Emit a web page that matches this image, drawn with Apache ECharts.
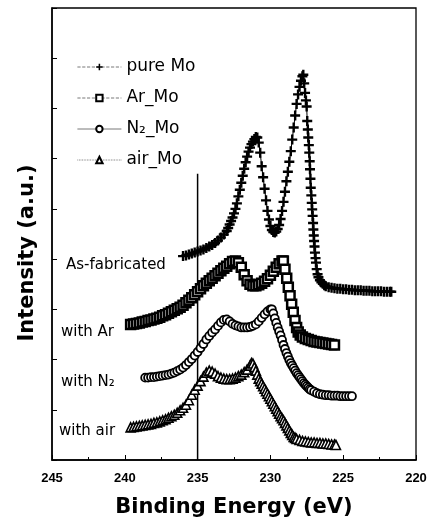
<!DOCTYPE html>
<html>
<head>
<meta charset="utf-8">
<title>Mo 3d XPS</title>
<script src="https://cdn.jsdelivr.net/npm/echarts@6/dist/echarts.min.js"></script>
<style>
  html, body { margin: 0; padding: 0; background: #fff; }
  #chart { width: 433px; height: 523px; }
</style>
</head>
<body>
<div id="chart"></div>
<script>
// 数据：[结合能 eV, 强度 a.u.]
const pureMo = [
  [236.0, 4.06], [235.8, 4.07], [235.6, 4.09], [235.4, 4.11], [235.2, 4.13], [235.0, 4.15],
  [234.8, 4.17], [234.6, 4.19], [234.4, 4.22], [234.2, 4.25], [234.0, 4.28], [233.8, 4.32],
  [233.6, 4.37], [233.4, 4.43], [233.2, 4.49], [233.0, 4.56], [232.9, 4.62], [232.8, 4.69],
  [232.7, 4.76], [232.6, 4.83], [232.5, 4.91], [232.4, 5.0], [232.3, 5.11], [232.2, 5.25],
  [232.1, 5.38], [232.0, 5.52], [231.9, 5.66], [231.8, 5.8], [231.7, 5.93], [231.6, 6.04],
  [231.5, 6.14], [231.4, 6.22], [231.3, 6.29], [231.2, 6.34], [231.1, 6.39], [231.0, 6.43],
  [230.9, 6.42], [230.8, 6.32], [230.7, 6.12], [230.6, 5.85], [230.5, 5.63], [230.4, 5.4],
  [230.3, 5.17], [230.2, 4.96], [230.1, 4.79], [230.0, 4.66], [229.9, 4.58], [229.8, 4.54],
  [229.7, 4.53], [229.6, 4.55], [229.5, 4.6], [229.4, 4.68], [229.3, 4.8], [229.2, 4.96],
  [229.1, 5.14], [229.0, 5.34], [228.9, 5.55], [228.8, 5.74], [228.7, 5.94], [228.6, 6.15],
  [228.5, 6.38], [228.4, 6.62], [228.3, 6.86], [228.2, 7.09], [228.1, 7.28], [228.0, 7.43],
  [227.9, 7.55], [227.8, 7.64], [227.74, 7.67], [227.68, 7.5], [227.62, 7.31], [227.56, 7.16],
  [227.51, 7.04], [227.47, 6.75], [227.43, 6.58], [227.4, 6.42], [227.36, 6.27], [227.33, 6.12],
  [227.3, 5.95], [227.28, 5.79], [227.25, 5.6], [227.23, 5.42], [227.19, 5.27], [227.16, 5.12],
  [227.13, 4.99], [227.1, 4.86], [227.07, 4.72], [227.05, 4.59], [227.02, 4.47], [227.0, 4.36],
  [226.97, 4.25], [226.94, 4.13], [226.9, 4.02], [226.87, 3.93], [226.82, 3.8], [226.76, 3.7],
  [226.7, 3.64], [226.6, 3.58], [226.5, 3.54], [226.4, 3.51], [226.3, 3.48], [226.2, 3.46],
  [226.0, 3.44], [225.8, 3.43], [225.6, 3.42], [225.4, 3.41], [225.2, 3.41], [225.0, 3.4],
  [224.8, 3.4], [224.6, 3.39], [224.4, 3.39], [224.2, 3.38], [224.0, 3.38], [223.8, 3.38],
  [223.6, 3.37], [223.4, 3.37], [223.2, 3.37], [223.0, 3.36], [222.8, 3.36], [222.6, 3.36],
  [222.4, 3.36], [222.2, 3.35], [222.0, 3.35], [221.8, 3.35], [221.7, 3.35]
];

const arMo = [
  [239.6, 2.7], [239.4, 2.71], [239.2, 2.72], [239.0, 2.73], [238.8, 2.75], [238.6, 2.76],
  [238.4, 2.78], [238.2, 2.79], [238.0, 2.81], [237.8, 2.82], [237.6, 2.84], [237.4, 2.87],
  [237.2, 2.89], [237.0, 2.92], [236.8, 2.95], [236.6, 2.98], [236.4, 3.01], [236.2, 3.04],
  [236.0, 3.08], [235.8, 3.13], [235.6, 3.18], [235.4, 3.23], [235.2, 3.29], [235.0, 3.35],
  [234.8, 3.41], [234.6, 3.47], [234.4, 3.52], [234.2, 3.57], [234.0, 3.62], [233.8, 3.67],
  [233.6, 3.72], [233.4, 3.77], [233.2, 3.82], [233.0, 3.86], [232.8, 3.91], [232.6, 3.95],
  [232.4, 3.96], [232.2, 3.93], [232.0, 3.84], [231.8, 3.69], [231.6, 3.57], [231.4, 3.5],
  [231.2, 3.47], [231.0, 3.47], [230.8, 3.49], [230.6, 3.52], [230.4, 3.56], [230.2, 3.61],
  [230.0, 3.68], [229.8, 3.76], [229.6, 3.84], [229.4, 3.91], [229.2, 3.96], [229.11, 3.96],
  [229.0, 3.8], [228.88, 3.62], [228.77, 3.44], [228.65, 3.27], [228.54, 3.1], [228.43, 2.94],
  [228.31, 2.78], [228.2, 2.64], [228.09, 2.55], [227.95, 2.49], [227.8, 2.45], [227.6, 2.42],
  [227.4, 2.4], [227.2, 2.38], [227.0, 2.36], [226.8, 2.35], [226.6, 2.34], [226.4, 2.33],
  [226.2, 2.32], [226.0, 2.31], [225.8, 2.3], [225.6, 2.29]
];

const n2Mo = [
  [238.6, 1.64], [238.4, 1.64], [238.2, 1.65], [238.0, 1.65], [237.8, 1.66], [237.6, 1.67],
  [237.4, 1.68], [237.2, 1.69], [237.0, 1.7], [236.8, 1.72], [236.6, 1.74], [236.4, 1.77],
  [236.2, 1.8], [236.0, 1.84], [235.8, 1.89], [235.6, 1.95], [235.4, 2.01], [235.2, 2.08],
  [235.0, 2.15], [234.8, 2.23], [234.6, 2.31], [234.4, 2.4], [234.2, 2.47], [234.0, 2.54],
  [233.8, 2.6], [233.6, 2.67], [233.4, 2.74], [233.2, 2.79], [233.0, 2.8], [232.8, 2.76],
  [232.6, 2.71], [232.4, 2.68], [232.2, 2.66], [232.0, 2.64], [231.8, 2.64], [231.6, 2.64],
  [231.4, 2.65], [231.2, 2.67], [231.0, 2.7], [230.8, 2.76], [230.6, 2.83], [230.4, 2.9],
  [230.2, 2.96], [230.0, 3.0], [229.9, 3.0], [229.8, 2.92], [229.7, 2.82], [229.6, 2.73],
  [229.5, 2.64], [229.4, 2.56], [229.3, 2.48], [229.2, 2.39], [229.1, 2.29], [229.0, 2.21],
  [228.9, 2.13], [228.8, 2.06], [228.7, 1.99], [228.6, 1.93], [228.5, 1.88], [228.4, 1.83],
  [228.3, 1.78], [228.2, 1.73], [228.1, 1.69], [228.0, 1.65], [227.9, 1.61], [227.8, 1.57],
  [227.7, 1.53], [227.6, 1.5], [227.5, 1.47], [227.4, 1.44], [227.3, 1.41], [227.2, 1.39],
  [227.0, 1.36], [226.8, 1.33], [226.6, 1.31], [226.4, 1.3], [226.2, 1.29], [226.0, 1.29],
  [225.8, 1.28], [225.6, 1.28], [225.4, 1.28], [225.2, 1.27], [225.0, 1.27], [224.8, 1.27],
  [224.6, 1.27], [224.4, 1.27]
];

const airMo = [
  [239.6, 0.65], [239.4, 0.66], [239.2, 0.67], [239.0, 0.68], [238.8, 0.69], [238.6, 0.7],
  [238.4, 0.71], [238.2, 0.72], [238.0, 0.74], [237.8, 0.75], [237.6, 0.77], [237.4, 0.79],
  [237.2, 0.81], [237.0, 0.84], [236.8, 0.87], [236.6, 0.9], [236.4, 0.94], [236.2, 0.99],
  [236.0, 1.04], [235.8, 1.1], [235.6, 1.19], [235.4, 1.3], [235.2, 1.4], [235.0, 1.48],
  [234.8, 1.57], [234.6, 1.66], [234.4, 1.74], [234.2, 1.78], [234.0, 1.76], [233.8, 1.72],
  [233.6, 1.67], [233.4, 1.64], [233.2, 1.62], [233.0, 1.61], [232.8, 1.61], [232.6, 1.62],
  [232.4, 1.64], [232.2, 1.67], [232.0, 1.7], [231.8, 1.75], [231.6, 1.8], [231.4, 1.88],
  [231.3, 1.93], [231.2, 1.92], [231.1, 1.85], [231.0, 1.78], [230.9, 1.7], [230.8, 1.62],
  [230.7, 1.57], [230.6, 1.52], [230.5, 1.47], [230.4, 1.42], [230.3, 1.37], [230.2, 1.32],
  [230.1, 1.27], [230.0, 1.22], [229.9, 1.17], [229.8, 1.12], [229.7, 1.07], [229.6, 1.02],
  [229.5, 0.97], [229.4, 0.92], [229.3, 0.87], [229.2, 0.83], [229.1, 0.79], [229.0, 0.74],
  [228.9, 0.69], [228.8, 0.64], [228.7, 0.59], [228.6, 0.54], [228.5, 0.5], [228.4, 0.46],
  [228.3, 0.44], [228.2, 0.42], [228.0, 0.4], [227.8, 0.38], [227.6, 0.37], [227.4, 0.36],
  [227.2, 0.35], [227.0, 0.35], [226.8, 0.34], [226.6, 0.34], [226.4, 0.33], [226.2, 0.33],
  [226.0, 0.32], [225.8, 0.31], [225.6, 0.31], [225.5, 0.3]
];

// 235 eV 处的竖直参考线
const refLine = [[235, 0], [235, 5.7]];

const seriesNames = ['pure Mo', 'Ar_Mo', 'N₂_Mo', 'air_Mo'];
const sampleLabels = ['As-fabricated', 'with Ar', 'with N₂', 'with air'];

// 十字形符号
const plusPath = 'path://M0,3.8L10,3.8L10,6.2L0,6.2Z M3.8,0L6.2,0L6.2,10L3.8,10Z';

const chart = echarts.init(document.getElementById('chart'));

const hollow = (size, sym, bw) => ({
  symbol: sym,
  symbolSize: size,
  itemStyle: { color: '#fff', borderColor: '#000', borderWidth: bw }
});

const labelFont = '15px "DejaVu Sans"';

const option = {
  animation: false,
  backgroundColor: '#fff',
  grid: {
    left: 52, right: 17, top: 8, bottom: 62,
    show: true, borderColor: '#000', borderWidth: 1.3
  },
  legend: {
    data: [
      { name: seriesNames[0], lineStyle: { type: 'dashed' } },
      { name: seriesNames[1], lineStyle: { type: 'dashed' } },
      { name: seriesNames[2] },
      { name: seriesNames[3], lineStyle: { type: 'dotted' } }
    ],
    orient: 'vertical',
    left: 72, top: 53,
    itemWidth: 44, itemHeight: 8, itemGap: 13,
    textStyle: { fontFamily: 'DejaVu Sans', fontSize: 17, color: '#000', lineHeight: 18 },
    lineStyle: { color: '#555', width: 0.8 }
  },
  xAxis: {
    type: 'value',
    min: 220, max: 245, interval: 5,
    inverse: true,
    name: 'Binding Energy (eV)',
    nameLocation: 'middle',
    nameGap: 37,
    nameTextStyle: { fontFamily: 'DejaVu Sans', fontWeight: 'bold', fontSize: 21, color: '#000' },
    axisLine: { lineStyle: { color: '#000', width: 1.5 } },
    axisTick: { inside: true, length: 5, lineStyle: { color: '#000' } },
    minorTick: { show: true, splitNumber: 2, length: 3, lineStyle: { color: '#000' } },
    axisLabel: { fontFamily: 'Liberation Sans', fontWeight: 'bold', fontSize: 13, color: '#000', margin: 12 },
    splitLine: { show: false }
  },
  yAxis: {
    type: 'value',
    min: 0, max: 9, interval: 1,
    axisLine: { show: true, lineStyle: { color: '#000', width: 1.5 } },
    axisTick: { show: true, inside: true, length: 5, lineStyle: { color: '#000' } },
    axisLabel: { show: false },
    splitLine: { show: false }
  },
  graphic: [
    {
      type: 'text', x: 28, y: 253, rotation: Math.PI / 2,
      style: {
        text: 'Intensity (a.u.)', fill: '#000',
        font: 'bold 21px "DejaVu Sans"',
        textAlign: 'center', textVerticalAlign: 'middle'
      }
    },
    { type: 'text', x: 66, y: 265, style: { text: sampleLabels[0], fill: '#000', font: labelFont, textVerticalAlign: 'middle' } },
    { type: 'text', x: 61, y: 332, style: { text: sampleLabels[1], fill: '#000', font: labelFont, textVerticalAlign: 'middle' } },
    { type: 'text', x: 61, y: 382, style: { text: sampleLabels[2], fill: '#000', font: labelFont, textVerticalAlign: 'middle' } },
    { type: 'text', x: 59, y: 431, style: { text: sampleLabels[3], fill: '#000', font: labelFont, textVerticalAlign: 'middle' } }
  ],
  series: [
    {
      name: seriesNames[0],
      type: 'line',
      data: pureMo,
      symbol: plusPath,
      symbolSize: 10,
      showAllSymbol: true,
      itemStyle: { color: '#000' },
      lineStyle: { color: '#000', width: 1 }
    },
    Object.assign({
      name: seriesNames[1],
      type: 'line',
      data: arMo,
      showAllSymbol: true,
      lineStyle: { color: '#000', width: 0.8 }
    }, hollow(9, 'rect', 2.5)),
    Object.assign({
      name: seriesNames[2],
      type: 'line',
      data: n2Mo,
      showAllSymbol: true,
      lineStyle: { color: '#000', width: 0.8 }
    }, hollow(8, 'circle', 1.8)),
    Object.assign({
      name: seriesNames[3],
      type: 'line',
      data: airMo,
      showAllSymbol: true,
      lineStyle: { color: '#000', width: 0.8 }
    }, hollow(9, 'triangle', 1.6)),
    {
      name: 'ref',
      type: 'line',
      data: refLine,
      symbol: 'none',
      lineStyle: { color: '#000', width: 1.5 },
      z: 1
    }
  ]
};

chart.setOption(option);
window.addEventListener('resize', () => chart.resize());
</script>
</body>
</html>
